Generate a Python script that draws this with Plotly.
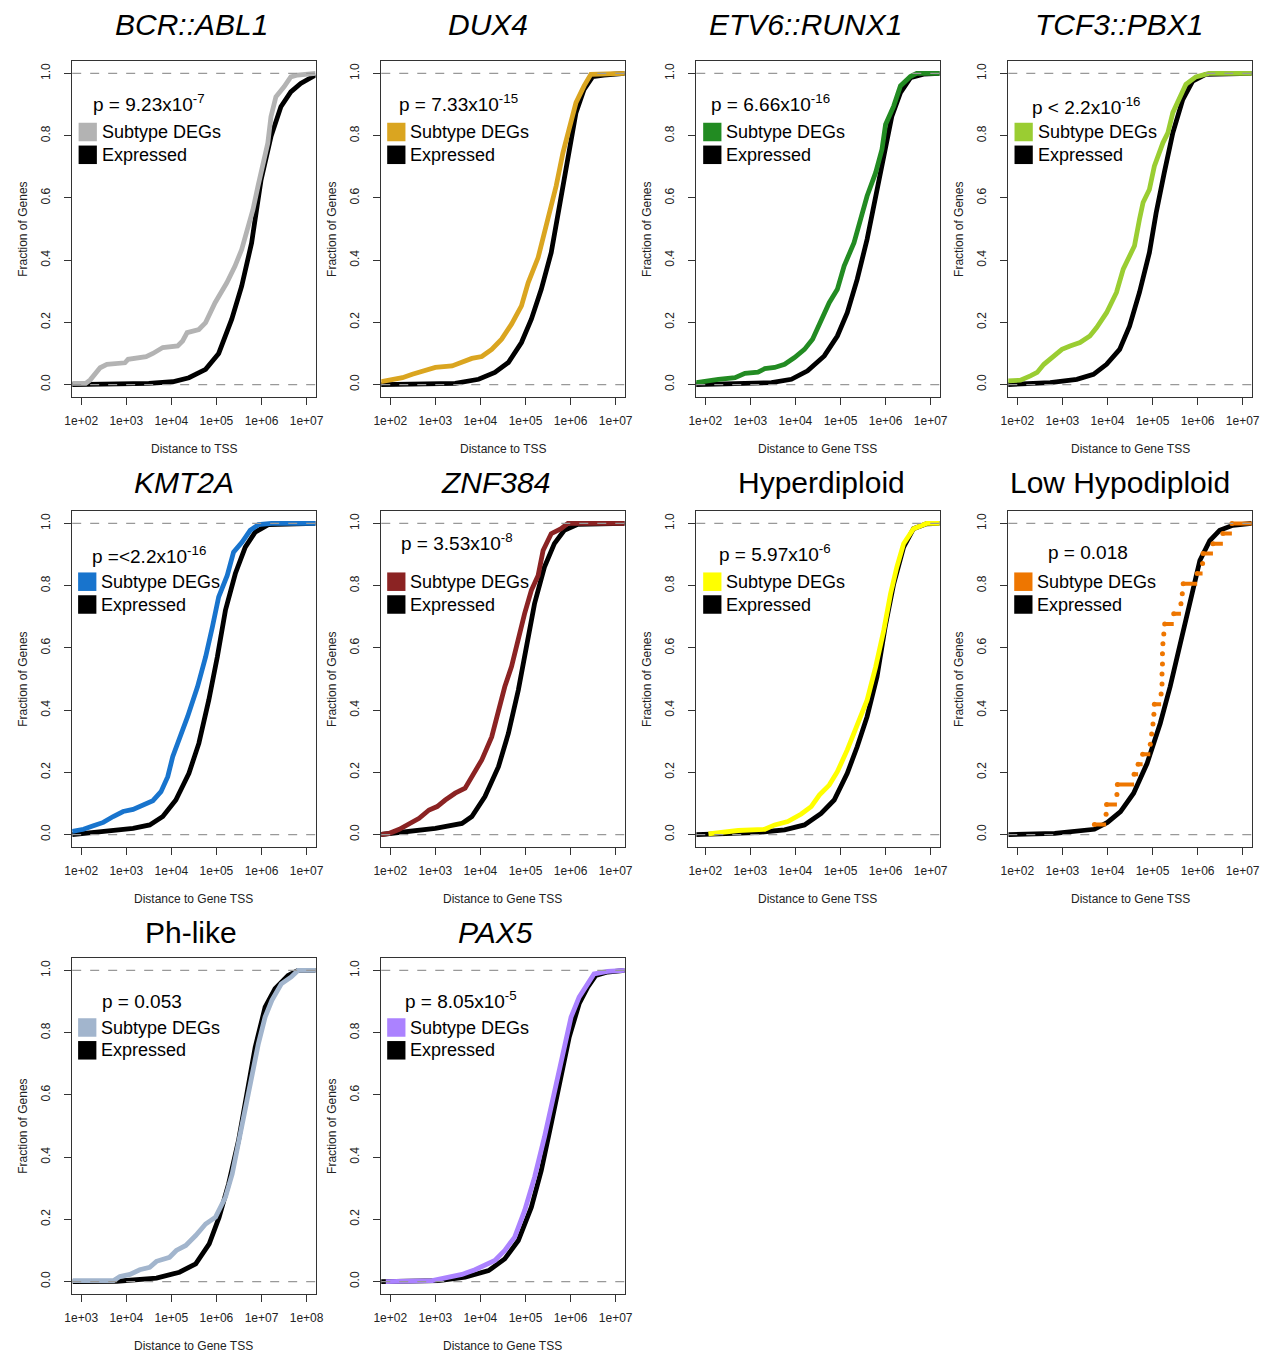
import plotly.graph_objects as go

FONT = "Liberation Sans, Arial, Helvetica, sans-serif"
W, H = 1276, 1354

# ---------------- data (x = log10 of distance, y = cumulative fraction) ----------------
titles = ["BCR::ABL1", "DUX4", "ETV6::RUNX1", "TCF3::PBX1", "KMT2A",
          "ZNF384", "Hyperdiploid", "Low Hypodiploid", "Ph-like", "PAX5"]
title_italic = [True, True, True, True, True, True, False, False, False, True]
pvalue_text = ["p = 9.23x10<sup>-7</sup>", "p = 7.33x10<sup>-15</sup>", "p = 6.66x10<sup>-16</sup>",
               "p &lt; 2.2x10<sup>-16</sup>", "p =&lt;2.2x10<sup>-16</sup>", "p = 3.53x10<sup>-8</sup>",
               "p = 5.97x10<sup>-6</sup>", "p = 0.018", "p = 0.053", "p = 8.05x10<sup>-5</sup>"]
deg_colors = ["#B3B3B3", "#DAA520", "#228B22", "#9ACD32", "#1874CD",
              "#8B2323", "#FFFF00", "#EE7600", "#A2B5CD", "#AB82FF"]
x_titles = ["Distance to TSS", "Distance to TSS"] + ["Distance to Gene TSS"] * 8
y_title = "Fraction of Genes"
legend_labels = ["Subtype DEGs", "Expressed"]
y_ticks = [0.0, 0.2, 0.4, 0.6, 0.8, 1.0]
y_ticktext = ["0.0", "0.2", "0.4", "0.6", "0.8", "1.0"]
x_ticks_std = [2, 3, 4, 5, 6, 7]
x_ticktext_std = ["1e+02", "1e+03", "1e+04", "1e+05", "1e+06", "1e+07"]
x_ticks_ph = [3, 4, 5, 6, 7, 8]
x_ticktext_ph = ["1e+03", "1e+04", "1e+05", "1e+06", "1e+07", "1e+08"]

# BCR::ABL1
bcr_deg_x = [1.80, 2.10, 2.20, 2.30, 2.42, 2.57, 2.97, 3.04, 3.44, 3.59, 3.81, 4.14, 4.25, 4.35,
             4.61, 4.76, 4.97, 5.23, 5.41, 5.56, 5.70, 5.81, 5.92, 6.03, 6.14, 6.21, 6.32, 6.50,
             6.65, 6.80, 7.20]
bcr_deg_y = [0.004, 0.004, 0.015, 0.035, 0.054, 0.065, 0.070, 0.081, 0.090, 0.100, 0.119, 0.124,
             0.140, 0.167, 0.177, 0.199, 0.263, 0.327, 0.380, 0.434, 0.509, 0.562, 0.637, 0.700,
             0.776, 0.861, 0.925, 0.957, 0.989, 0.995, 1.000]
bcr_exp_x = [1.80, 3.00, 3.50, 4.03, 4.39, 4.76, 5.05, 5.34, 5.56, 5.78, 5.99, 6.21, 6.43, 6.65,
             6.87, 7.20]
bcr_exp_y = [0.000, 0.002, 0.004, 0.009, 0.022, 0.049, 0.100, 0.210, 0.316, 0.455, 0.658, 0.797,
             0.893, 0.941, 0.968, 0.995]

# DUX4
dux_deg_x = [1.79, 1.98, 2.27, 2.49, 2.78, 3.00, 3.37, 3.59, 3.81, 4.03, 4.25, 4.47, 4.69, 4.91,
             5.06, 5.28, 5.50, 5.68, 5.83, 5.97, 6.12, 6.30, 6.45, 7.20]
dux_deg_y = [0.009, 0.015, 0.022, 0.033, 0.047, 0.055, 0.060, 0.071, 0.084, 0.090, 0.113, 0.146,
             0.194, 0.253, 0.328, 0.408, 0.531, 0.638, 0.745, 0.825, 0.906, 0.960, 0.997, 1.000]
dux_exp_x = [1.79, 3.00, 3.44, 3.96, 4.32, 4.62, 4.91, 5.13, 5.35, 5.57, 5.75, 5.94, 6.12, 6.30,
             6.49, 6.74, 7.20]
dux_exp_y = [0.000, 0.002, 0.004, 0.017, 0.039, 0.071, 0.135, 0.210, 0.306, 0.424, 0.574, 0.734,
             0.874, 0.949, 0.990, 0.995, 1.000]

# ETV6::RUNX1
etv_deg_x = [1.79, 2.00, 2.29, 2.66, 2.88, 3.17, 3.32, 3.54, 3.76, 3.98, 4.20, 4.38, 4.49, 4.75,
             4.93, 5.08, 5.30, 5.45, 5.59, 5.78, 5.92, 6.00, 6.18, 6.33, 6.55, 6.69, 7.20]
etv_deg_y = [0.006, 0.012, 0.017, 0.022, 0.036, 0.040, 0.051, 0.055, 0.065, 0.087, 0.113, 0.146,
             0.183, 0.263, 0.306, 0.381, 0.456, 0.531, 0.606, 0.681, 0.756, 0.836, 0.895, 0.960,
             0.990, 1.000, 1.000]
etv_exp_x = [1.79, 3.00, 3.47, 3.91, 4.27, 4.64, 4.93, 5.15, 5.37, 5.59, 5.78, 5.96, 6.14, 6.33,
             6.55, 6.84, 7.20]
etv_exp_y = [0.000, 0.003, 0.006, 0.017, 0.044, 0.092, 0.156, 0.231, 0.338, 0.467, 0.606, 0.745,
             0.863, 0.938, 0.986, 0.998, 1.000]

# TCF3::PBX1
tcf_deg_x = [1.79, 2.07, 2.29, 2.44, 2.59, 2.81, 2.99, 3.17, 3.39, 3.61, 3.76, 3.98, 4.20, 4.35,
             4.60, 4.71, 4.79, 4.93, 5.04, 5.23, 5.34, 5.45, 5.59, 5.74, 5.96, 6.25, 7.20]
tcf_deg_y = [0.012, 0.014, 0.028, 0.039, 0.065, 0.092, 0.113, 0.124, 0.135, 0.156, 0.183, 0.231,
             0.296, 0.371, 0.446, 0.531, 0.585, 0.627, 0.702, 0.777, 0.809, 0.874, 0.916, 0.965,
             0.989, 1.000, 1.000]
tcf_exp_x = [1.79, 2.73, 3.32, 3.69, 3.98, 4.27, 4.49, 4.71, 4.93, 5.08, 5.26, 5.45, 5.67, 5.89,
             6.18, 7.20]
tcf_exp_y = [0.000, 0.006, 0.017, 0.033, 0.065, 0.113, 0.188, 0.296, 0.424, 0.552, 0.681, 0.809,
             0.916, 0.975, 0.997, 1.000]

# KMT2A
kmt_deg_x = [1.80, 2.05, 2.27, 2.49, 2.71, 2.93, 3.15, 3.37, 3.59, 3.77, 3.92, 4.03, 4.17, 4.36,
             4.58, 4.76, 4.91, 5.05, 5.24, 5.38, 5.57, 5.75, 5.93, 6.22, 7.20]
kmt_deg_y = [0.010, 0.017, 0.028, 0.039, 0.058, 0.074, 0.081, 0.095, 0.109, 0.138, 0.186, 0.250,
             0.304, 0.379, 0.475, 0.571, 0.667, 0.764, 0.833, 0.908, 0.940, 0.978, 0.996, 1.000,
             1.000]
kmt_exp_x = [1.80, 2.56, 3.15, 3.52, 3.81, 4.10, 4.39, 4.61, 4.83, 5.02, 5.20, 5.42, 5.64, 5.86,
             6.15, 7.20]
kmt_exp_y = [0.000, 0.011, 0.020, 0.031, 0.058, 0.111, 0.197, 0.293, 0.432, 0.571, 0.721, 0.839,
             0.924, 0.972, 0.996, 1.000]

# ZNF384
znf_deg_x = [1.79, 1.98, 2.20, 2.42, 2.64, 2.86, 3.04, 3.22, 3.44, 3.66, 3.81, 4.03, 4.25, 4.40,
             4.54, 4.69, 4.84, 4.98, 5.13, 5.28, 5.39, 5.57, 5.79, 5.94, 7.20]
znf_deg_y = [0.000, 0.004, 0.017, 0.036, 0.052, 0.079, 0.090, 0.111, 0.133, 0.149, 0.186, 0.240,
             0.314, 0.400, 0.475, 0.540, 0.636, 0.710, 0.785, 0.833, 0.913, 0.967, 0.983, 1.000,
             1.000]
znf_exp_x = [1.79, 2.34, 3.00, 3.59, 3.81, 4.10, 4.40, 4.62, 4.84, 5.02, 5.20, 5.42, 5.64, 5.86,
             6.16, 7.20]
znf_exp_y = [0.000, 0.010, 0.020, 0.036, 0.058, 0.122, 0.218, 0.325, 0.464, 0.603, 0.742, 0.860,
             0.935, 0.978, 0.997, 1.000]

# Hyperdiploid
hyp_deg_x = [2.07, 2.73, 3.32, 3.54, 3.83, 4.13, 4.35, 4.53, 4.75, 4.93, 5.15, 5.37, 5.59, 5.78,
             5.96, 6.11, 6.25, 6.40, 6.62, 6.91, 7.20]
hyp_deg_y = [0.002, 0.013, 0.017, 0.031, 0.042, 0.066, 0.090, 0.127, 0.159, 0.202, 0.272, 0.357,
             0.432, 0.539, 0.657, 0.774, 0.860, 0.935, 0.983, 1.000, 1.000]
hyp_exp_x = [1.80, 3.10, 3.76, 4.20, 4.57, 4.86, 5.15, 5.37, 5.59, 5.81, 5.99, 6.18, 6.40, 6.62,
             6.91, 7.20]
hyp_exp_y = [0.000, 0.006, 0.015, 0.031, 0.068, 0.111, 0.197, 0.282, 0.379, 0.507, 0.667, 0.806,
             0.924, 0.983, 0.999, 1.000]

# Low Hypodiploid (few DEGs: drawn as ECDF steps without verticals)
low_deg_x = [3.71, 3.97, 3.98, 4.21, 4.22, 4.59, 4.68, 4.78, 4.95, 4.98, 5.01, 5.03, 5.04, 5.19,
             5.21, 5.21, 5.22, 5.22, 5.23, 5.25, 5.27, 5.47, 5.63, 5.66, 5.68, 5.99, 6.11, 6.12,
             6.34, 6.56, 6.76]
low_deg_y = [0.032, 0.065, 0.097, 0.129, 0.161, 0.194, 0.226, 0.258, 0.290, 0.323, 0.355, 0.387,
             0.419, 0.452, 0.484, 0.516, 0.548, 0.581, 0.613, 0.645, 0.677, 0.710, 0.742, 0.774,
             0.806, 0.839, 0.871, 0.903, 0.935, 0.968, 1.000]
low_exp_x = [1.80, 2.83, 3.71, 4.00, 4.29, 4.58, 4.88, 5.17, 5.39, 5.61, 5.83, 6.05, 6.27, 6.49,
             6.78, 7.20]
low_exp_y = [0.000, 0.004, 0.017, 0.039, 0.074, 0.133, 0.229, 0.357, 0.475, 0.614, 0.753, 0.881,
             0.945, 0.978, 0.994, 1.000]

# Ph-like
ph_deg_x = [2.81, 3.72, 3.86, 4.08, 4.30, 4.52, 4.67, 4.96, 5.11, 5.32, 5.54, 5.76, 5.98, 6.20,
            6.35, 6.49, 6.64, 6.79, 6.93, 7.08, 7.23, 7.44, 7.66, 7.81, 8.20]
ph_deg_y = [0.003, 0.003, 0.016, 0.023, 0.038, 0.046, 0.065, 0.078, 0.100, 0.116, 0.148, 0.185,
            0.207, 0.271, 0.346, 0.443, 0.550, 0.668, 0.764, 0.850, 0.904, 0.957, 0.979, 1.000,
            1.000]
ph_exp_x = [2.81, 3.79, 4.67, 5.18, 5.54, 5.84, 6.06, 6.27, 6.49, 6.68, 6.86, 7.08, 7.30, 7.59,
            7.81, 8.20]
ph_exp_y = [0.000, 0.001, 0.011, 0.030, 0.057, 0.121, 0.207, 0.314, 0.453, 0.603, 0.753, 0.882,
            0.941, 0.984, 1.000, 1.000]

# PAX5
pax_deg_x = [1.90, 2.93, 3.30, 3.59, 3.88, 4.10, 4.32, 4.54, 4.76, 4.98, 5.20, 5.42, 5.64, 5.83,
             6.01, 6.19, 6.38, 6.52, 6.82, 7.20]
pax_deg_y = [0.000, 0.003, 0.014, 0.023, 0.038, 0.055, 0.068, 0.100, 0.143, 0.228, 0.335, 0.464,
             0.614, 0.743, 0.850, 0.914, 0.957, 0.989, 0.997, 1.000]
pax_exp_x = [1.79, 3.08, 3.66, 4.18, 4.54, 4.84, 5.13, 5.35, 5.57, 5.79, 5.97, 6.19, 6.38, 6.56,
             6.82, 7.20]
pax_exp_y = [0.000, 0.003, 0.014, 0.035, 0.073, 0.132, 0.239, 0.357, 0.507, 0.657, 0.786, 0.893,
             0.946, 0.984, 0.995, 1.000]

deg_series = [(bcr_deg_x, bcr_deg_y), (dux_deg_x, dux_deg_y), (etv_deg_x, etv_deg_y),
              (tcf_deg_x, tcf_deg_y), (kmt_deg_x, kmt_deg_y), (znf_deg_x, znf_deg_y),
              (hyp_deg_x, hyp_deg_y), (low_deg_x, low_deg_y), (ph_deg_x, ph_deg_y),
              (pax_deg_x, pax_deg_y)]
exp_series = [(bcr_exp_x, bcr_exp_y), (dux_exp_x, dux_exp_y), (etv_exp_x, etv_exp_y),
              (tcf_exp_x, tcf_exp_y), (kmt_exp_x, kmt_exp_y), (znf_exp_x, znf_exp_y),
              (hyp_exp_x, hyp_exp_y), (low_exp_x, low_exp_y), (ph_exp_x, ph_exp_y),
              (pax_exp_x, pax_exp_y)]

# ---------------- layout geometry (pixels) ----------------
col_left = [65, 378, 697, 1013]
row_top = [61, 511, 958]
box_w, box_h = 246.5, 336
title_cx = [186, 486, 808, 1125, 178, 494, 824, 1126, 185, 494]
title_cy = [24, 24, 24, 24, 483, 483, 483, 483, 932, 932]
p_dx = [19, 16, 13, 22, 18, 18, 21, 38, 28, 22]
p_dy = [42, 42, 42, 45, 44, 31, 42, 41, 43, 42]
leg_dx = [6.5, 6, 7, 6.3, 6, 6, 7, 6, 6, 6]
leg_dy = [71, 71, 71, 71, 70.7, 70.7, 70.7, 70.7, 69.5, 69.5]
leg_gap = 22.8
sq = 18.5


def px(x):
    return x / W


def py(y):
    return 1 - y / H


fig = go.Figure()
shapes = []
annotations = []

for i in range(10):
    r, c = divmod(i, 4)
    L, T = col_left[c], row_top[r]
    R, B = L + box_w, T + box_h
    ax = "" if i == 0 else str(i + 1)
    xa, ya = "x" + ax, "y" + ax
    is_ph = titles[i] == "Ph-like"
    xr = [2.8, 8.2] if is_ph else [1.8, 7.2]

    ex, ey = exp_series[i]
    fig.add_trace(go.Scatter(x=[10 ** v for v in ex], y=ey, mode="lines",
                             line=dict(color="black", width=4.8), xaxis=xa, yaxis=ya,
                             showlegend=False, hoverinfo="skip"))
    dx, dy = deg_series[i]
    if titles[i] == "Low Hypodiploid":
        sx, sy = [], []
        ends = dx[1:] + [xr[1] + 0.2]
        for a, b, lv in zip(dx, ends, dy):
            sx += [10 ** a, 10 ** b, None]
            sy += [lv, lv, None]
        fig.add_trace(go.Scatter(x=sx, y=sy, mode="lines",
                                 line=dict(color=deg_colors[i], width=4), xaxis=xa, yaxis=ya,
                                 showlegend=False, hoverinfo="skip"))
        fig.add_trace(go.Scatter(x=[10 ** v for v in dx], y=dy, mode="markers",
                                 marker=dict(color=deg_colors[i], size=5), xaxis=xa, yaxis=ya,
                                 showlegend=False, hoverinfo="skip"))
    else:
        fig.add_trace(go.Scatter(x=[10 ** v for v in dx], y=dy, mode="lines",
                                 line=dict(color=deg_colors[i], width=4.8), xaxis=xa, yaxis=ya,
                                 showlegend=False, hoverinfo="skip"))

    tv = x_ticks_ph if is_ph else x_ticks_std
    tt = x_ticktext_ph if is_ph else x_ticktext_std
    fig.layout["xaxis" + ax] = dict(
        domain=[px(L), px(R)], anchor=ya, type="log", range=xr,
        tickvals=[10 ** v for v in tv], ticktext=tt, ticks="outside", ticklen=7,
        tickwidth=1, tickcolor="#333", showline=True, linecolor="#333", linewidth=1.2,
        mirror=True, showgrid=False, zeroline=False, ticklabelstandoff=5,
        tickfont=dict(family=FONT, size=12, color="#222"))
    fig.layout["yaxis" + ax] = dict(
        domain=[py(B), py(T)], anchor=xa, range=[-0.04, 1.04],
        tickvals=y_ticks, ticktext=y_ticktext, tickangle=-90, ticks="outside", ticklen=7,
        tickwidth=1, tickcolor="#333", showline=True, linecolor="#333", linewidth=1.2,
        mirror=True, showgrid=False, zeroline=False, ticklabelstandoff=9,
        tickfont=dict(family=FONT, size=12, color="#222"))

    for lv in (0, 1):
        shapes.append(dict(type="line", xref=xa + " domain", yref=ya, x0=0, x1=1, y0=lv, y1=lv,
                           line=dict(color="#999999", width=1.3, dash="dash")))

    t = "<i>%s</i>" % titles[i] if title_italic[i] else titles[i]
    annotations.append(dict(text=t, x=px(title_cx[i]), y=py(title_cy[i]), xref="paper",
                            yref="paper", xanchor="center", yanchor="middle", showarrow=False,
                            font=dict(family=FONT, size=30, color="black")))
    annotations.append(dict(text=x_titles[i], x=px((L + R) / 2), y=py(B + 52), xref="paper",
                            yref="paper", xanchor="center", yanchor="middle", showarrow=False,
                            font=dict(family=FONT, size=12, color="#222")))
    annotations.append(dict(text=y_title, x=px(L - 50), y=py((T + B) / 2), xref="paper",
                            yref="paper", xanchor="center", yanchor="middle", showarrow=False,
                            textangle=-90, font=dict(family=FONT, size=12, color="#222")))
    annotations.append(dict(text=pvalue_text[i], x=px(L + p_dx[i]), y=py(T + p_dy[i]),
                            xref="paper", yref="paper", xanchor="left", yanchor="middle",
                            showarrow=False, font=dict(family=FONT, size=19, color="black")))
    for k, (lab, colr) in enumerate(zip(legend_labels, [deg_colors[i], "black"])):
        cy = T + leg_dy[i] + k * leg_gap
        sl = L + leg_dx[i]
        shapes.append(dict(type="rect", xref="paper", yref="paper", x0=px(sl), x1=px(sl + sq),
                           y0=py(cy + sq / 2), y1=py(cy - sq / 2), fillcolor=colr,
                           line=dict(width=0)))
        annotations.append(dict(text=lab, x=px(sl + sq + 3), y=py(cy), xref="paper",
                                yref="paper", xanchor="left", yanchor="middle", showarrow=False,
                                font=dict(family=FONT, size=18, color="black")))

fig.update_layout(width=W, height=H, margin=dict(l=0, r=0, t=0, b=0),
                  paper_bgcolor="white", plot_bgcolor="white",
                  shapes=shapes, annotations=annotations, showlegend=False)
fig.write_html("out.html")
